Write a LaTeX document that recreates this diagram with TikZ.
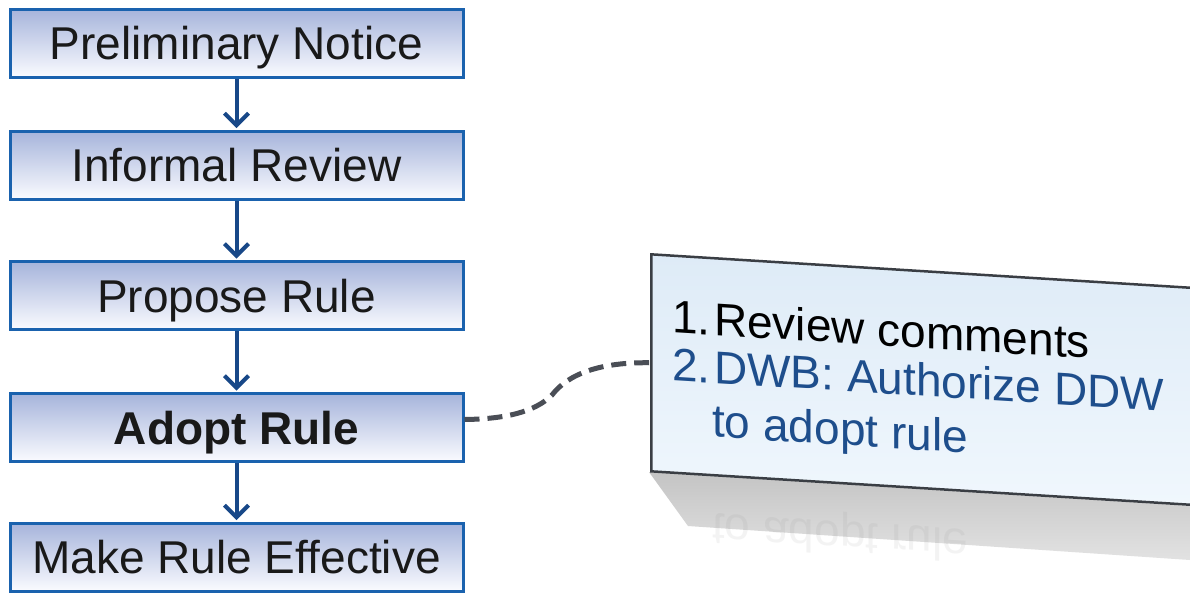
\documentclass[tikz,border=0pt]{standalone}
\usepackage{fontspec}
\setmainfont{Liberation Sans}
\usetikzlibrary{arrows.meta}
\definecolor{boxblue}{RGB}{26,98,174}
\definecolor{boxtop}{RGB}{166,180,219}
\definecolor{boxbot}{RGB}{250,251,255}
\definecolor{arrowblue}{RGB}{24,72,136}
\definecolor{notetext}{RGB}{30,78,140}
\definecolor{noteborder}{RGB}{58,62,68}
\definecolor{notetop}{RGB}{222,235,247}
\definecolor{notebot}{RGB}{240,247,253}
\definecolor{dashgray}{RGB}{74,78,86}
\definecolor{shadtop}{RGB}{196,196,196}
\definecolor{shadbot}{RGB}{226,226,226}
\begin{document}
\begin{tikzpicture}[x=1pt,y=1pt,
  stepbox/.style={draw=boxblue, line width=3pt, top color=boxtop, bottom color=boxbot,
    minimum width=453pt, minimum height=68pt, inner sep=0pt,
    text height=33pt, text depth=0pt, font=\fontsize{46}{50}\selectfont, text=black!90},
  flow/.style={draw=arrowblue, line width=4pt, shorten >=1.5pt,
    -{Straight Barb[length=12pt,width=24pt]}},
  notebox/.style={draw=noteborder, line width=2.5pt, top color=notetop, bottom color=notebot,
    minimum width=540pt, minimum height=217pt, inner sep=0pt},
  notetxt/.style={font=\fontsize{46}{50}\selectfont, inner sep=0pt, align=left},
  conn/.style={draw=dashgray, line width=5pt, dash pattern=on 15pt off 8pt}]
\useasboundingbox (0,0) rectangle (1190,-592);
\fill[white] (0,0) rectangle (1190,-592);

% flow boxes
\node[stepbox] (b1) at (236.5,-43) {Preliminary Notice};
\node[stepbox] (b2) at (236.5,-165) {Informal Review};
\node[stepbox] (b3) at (236.5,-295.5) {Propose Rule};
\node[stepbox, font=\bfseries\fontsize{46}{50}\selectfont] (b4) at (236.5,-427.5) {Adopt Rule};
\node[stepbox] (b5) at (236.5,-557) {Make Rule Effective};

\draw[flow] (b1.south) -- (b2.north);
\draw[flow] (b2.south) -- (b3.north);
\draw[flow] (b3.south) -- (b4.north);
\draw[flow] (b4.south) -- (b5.north);

% reflection shadow of the note
\shade[top color=shadtop, bottom color=shadbot] (649,-472) -- (1190,-506) -- (1190,-560) -- (688,-526) -- cycle;

% the note, sheared
\begin{scope}[cm={1,-0.062,0,1,(650,-253)}, transform shape]
  \node[notebox, anchor=north west] (note) at (0,0) {};
  \node[notetxt, anchor=north west] (items) at (22,-44.6)
    {\makebox[42pt][l]{1.}Review comments\\[-2pt]
     \color{notetext}\makebox[42pt][l]{2.}DWB: Authorize DDW\\[4pt]
     \color{notetext}\hspace*{40pt}to adopt rule};
  \node[notetxt, anchor=base west, yscale=-1, text=gray, opacity=0.09] (refl) at (62,-257) {to adopt rule};
\end{scope}

% dashed connector
\draw[conn] ([yshift=8pt]b4.east) .. controls (505,-419) and (535,-412) .. (552,-395)
  .. controls (568,-374) and (600,-362) .. (note.west);
\end{tikzpicture}
\end{document}
